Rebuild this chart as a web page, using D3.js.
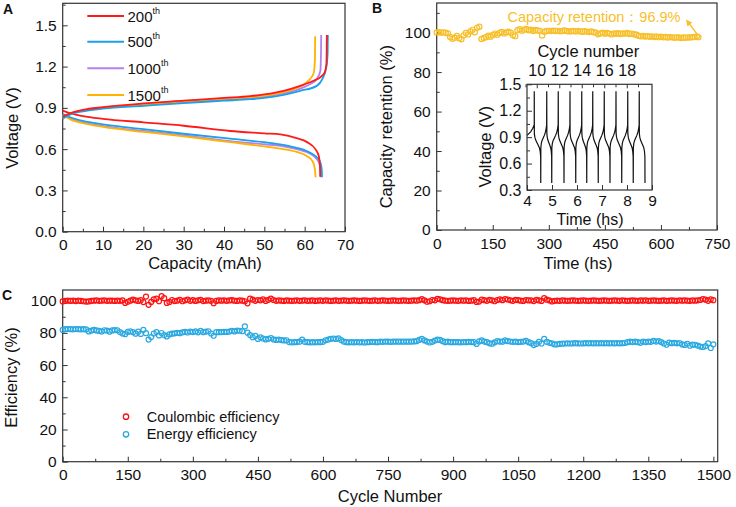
<!DOCTYPE html>
<html><head><meta charset="utf-8">
<script src="https://cdn.jsdelivr.net/npm/d3@7"></script>
<style>body{margin:0;background:#fff}svg{display:block;font-family:"Liberation Sans",Arial,sans-serif}</style>
</head><body><svg id="c" width="736" height="507"></svg>
<script>
// ---------------- DATA ----------------
// Panel A: charge / discharge curves (capacity mAh, voltage V)
const seriesNames = ["200", "500", "1000", "1500"];
const chg200Cap = [0,1,2,5,10,20,30,40,46.5,50,54.8,58.9,62.2,64,65,65.4,65.5];
const chg200V   = [0.835,0.85,0.862,0.885,0.905,0.932,0.952,0.972,0.985,0.998,1.024,1.06,1.097,1.125,1.16,1.22,1.43];
const chg500Cap = [0,1,2,5,10,20,30,40,46.5,50,54.8,58.9,63,64.4,65.4,65.7,65.75];
const chg500V   = [0.82,0.84,0.855,0.875,0.895,0.915,0.935,0.952,0.963,0.972,0.995,1.024,1.06,1.11,1.2,1.3,1.43];
const chg1000Cap = [0,1,2,5,10,20,30,40,46.5,50,54.8,58.9,61.5,63,63.9,64.05,64.1];
const chg1000V   = [0.825,0.842,0.858,0.88,0.9,0.922,0.942,0.962,0.972,0.982,1.005,1.04,1.075,1.11,1.17,1.3,1.43];
const chg1500Cap = [0,1,2,5,10,20,30,40,46.5,50,54.8,58.9,61,62.2,62.55,62.6];
const chg1500V   = [0.83,0.845,0.86,0.882,0.902,0.925,0.947,0.967,0.978,0.99,1.015,1.055,1.1,1.15,1.25,1.42];
const dis200Cap = [0,2,5,10,20,30,41.5,50,54,58,60.6,62.7,63.5,63.8,63.85];
const dis200V   = [0.88,0.86,0.84,0.82,0.795,0.77,0.732,0.715,0.707,0.68,0.651,0.598,0.55,0.47,0.40];
const dis500Cap = [0,2,5,10,20,30,41.5,50,54,58,60.6,62.7,63.8,64.25,64.3];
const dis500V   = [0.855,0.83,0.805,0.78,0.745,0.712,0.676,0.65,0.634,0.61,0.585,0.549,0.51,0.45,0.395];
const dis1000Cap = [0,2,5,10,20,30,41.5,50,54,58,60.6,62.7,63.7,63.95,64.0];
const dis1000V   = [0.845,0.82,0.795,0.768,0.732,0.70,0.658,0.635,0.624,0.60,0.577,0.537,0.49,0.44,0.395];
const dis1500Cap = [0,2,5,10,20,30,41.5,50,54,58,60.6,62,62.5,62.65,62.7];
const dis1500V   = [0.85,0.815,0.79,0.762,0.725,0.693,0.651,0.62,0.603,0.58,0.549,0.51,0.46,0.42,0.395];

// Panel B: capacity retention (%) every 6 h from 0 h
const retentionStepH = 6;
const retention = [
100.1,100.2,100.0,100.1,99.9,99.6,97.8,96.9,97.4,98.3,
97.2,96.6,98.6,99.8,99.1,100.6,101.4,100.2,102.4,103.0,
96.8,97.3,97.7,98.4,97.9,98.8,99.5,98.9,99.8,100.3,
99.6,100.1,100.4,99.9,98.6,98.2,101.2,101.7,100.9,101.5,
101.8,101.2,101.5,100.8,101.3,101.1,100.9,98.5,100.4,100.8,
100.9,100.8,101.0,100.8,100.9,100.7,100.8,101.1,100.8,100.6,
100.7,100.8,100.5,100.9,100.6,100.4,100.7,100.5,100.3,100.6,
100.2,100.0,99.2,99.6,99.9,99.4,99.8,99.5,99.1,99.6,
99.4,99.7,99.3,99.6,99.5,99.8,99.3,99.5,99.2,98.9,
98.4,98.1,98.3,98.0,98.2,97.9,98.1,97.8,98.0,97.7,
97.9,97.6,97.8,97.5,97.7,97.6,97.4,97.6,97.5,97.3,
97.5,97.4,97.6,97.5,97.7,97.8,98.1];
const retentionLabel = "Capacity retention：96.9%";

// Panel B inset: voltage profile of cycles 9-19 (time in h)
const insetChargeEndT    = [4.29,4.79,5.25,5.72,6.19,6.63,7.09,7.56,8.03,8.49];
const insetDischargeEndT = [4.55,4.99,5.48,5.95,6.39,6.85,7.32,7.79,8.25,8.72];
const chargeShapeFrac = [0,0.08,0.2,0.4,0.6,0.8,0.92,1];
const chargeShapeV    = [0.78,0.83,0.86,0.89,0.92,0.96,1.0,1.04];
const dischargeShapeFrac = [0,0.08,0.2,0.4,0.6,0.8,0.92,1];
const dischargeShapeV    = [0.94,0.90,0.87,0.84,0.81,0.78,0.74,0.68];
const insetTopV = 1.42, insetBottomV = 0.38;
const cycleTicks = [10,12,14,16,18];

// Panel C: efficiencies every 6 cycles from 0
const effStep = 6;
const coulombic = [
99.5,99.8,100,99.9,100,99.7,100,99.8,99.6,99.4,
99.5,99.9,100,100.1,99.9,100,100.2,99.9,100,100,
99.8,100,99.9,100.1,98.6,99.3,100,100.6,100.2,99.8,
100.3,99.1,102.5,97.4,99.2,100.8,101.2,99.6,102.8,101.5,
98.6,99.2,100.4,99.7,100,100.5,99.6,100.2,100.6,99.9,
100.3,99.8,100.2,100.5,99.7,100,100.2,99.9,98.4,99.8,
100.1,100,100.2,99.9,100.1,100.3,100,99.8,100.2,100,
99.6,98.3,101.2,100.6,99.9,100.4,100.2,100.8,99.8,100.5,
101.3,100.4,99.9,100.1,100,99.8,100.1,100,99.9,100,
100.1,99.9,100,100.2,99.9,100,100.1,99.8,100,100.1,
99.9,100.2,100,99.8,100,100.1,99.9,100,100.2,100,
99.9,100,100.1,100,99.8,100,100.1,100,99.9,100,
100.1,99.9,100,100.2,100,99.9,100,100.1,100,99.9,
100,100.1,100,99.9,100,100.2,100,100.3,100.9,100.2,
99.3,99.6,100.4,100.2,101.1,100.8,100.3,100,99.9,100,
100.1,100,99.9,100.2,100,100.1,99.8,100,100.3,99.2,
99.4,100.6,100.3,99.9,100.5,100.2,99.6,100.4,100.8,100.3,
101,100.7,100.2,99.9,100.5,100.3,100,99.8,100.4,100.1,
100.2,99.7,100.5,100.1,99.8,101.6,100.6,100.1,99.5,99.9,
100,99.9,100.1,100,99.9,100,100.1,100,99.9,100,
100.1,100,99.9,100,100.1,100,99.9,100,100.1,100,
99.9,100,100.1,100,99.9,100.2,100,99.9,100,100.1,
100,99.9,100.1,100,100.2,99.9,100,100.1,100,99.9,
100,100.1,99.9,100,100.1,100,99.9,100.2,100,100.1,
100,99.9,100.1,100,100.2,100.4,101,100.6,99.9,100.8,
100.3];
const energy = [
81.8,82.3,82.4,82.3,82.2,82.4,82.3,82.2,82.3,82.1,
80.9,81.4,81.8,81.5,81.2,80.8,81.6,81.4,80.7,81.5,
81.7,81.6,80.5,79.6,79.2,80.6,81,80.4,79.5,80.7,
79.3,81.9,79.8,75.8,77.4,79.6,80.5,78.4,79.9,78.6,
77.8,79,79.5,79.7,80,79.8,80.3,80.6,80.2,80.8,
80.5,80.9,80.3,81.2,80.4,80.8,81,79.6,78.2,80.4,
80.4,80.5,80.6,80.6,80.8,81.2,80.9,81.4,81.3,81,
84,80.1,78.6,77.3,78.1,76.2,77.2,76.5,75.9,76.3,
76.8,75.9,75.6,75.8,75.5,75.3,75.4,74.3,74.1,74.2,
74.3,74.5,75.8,74.4,74.2,74.1,74.2,74.1,74.3,74.2,
74.4,75.4,75.8,76.3,76.5,76.2,76.6,75.5,74.6,74.2,
74.1,74.2,74.1,74.3,74.1,74.2,74,74.2,74.3,74.4,
74.3,74.2,74.5,74.4,74.6,74.5,74.4,74.5,74.6,74.5,
74.6,74.5,74.6,74.5,74.6,74.7,74.8,75.6,76.2,75.3,
74.6,74,74.4,75.2,75.8,75.6,74.8,74.2,74.5,74.2,
74.2,74.3,74.2,74.1,74.3,74.2,74.4,74.3,74.2,73.1,
74.7,75.3,74.6,74.2,73.5,73.3,74.1,74.8,74.6,74.5,
75.3,74.8,74.6,74.4,74.5,74.3,74.4,74.6,75,74.2,
73.6,72.4,73.1,74.4,73.4,76.3,74.4,73.8,73.5,72.8,
72.9,73.2,73.3,73.4,73.5,73.4,73.5,73.6,73.5,73.4,
73.5,73.6,73.5,73.6,73.5,73.6,73.5,73.6,73.5,73.6,
73.5,73.6,73.5,73.6,73.5,73.6,73.7,74.2,74.5,74.3,
74.5,74.2,73.8,74.6,74.3,74.5,74.4,75,74.6,74.9,
74.3,73.4,72.6,73.9,73.6,73.8,73.5,73.7,72.8,72.5,
73.2,72,72.7,72.6,72.1,71.5,71.2,71.8,73.5,70.6,
72.9];
const effNames = ["Coulombic efficiency", "Energy efficiency"];

// ---------------- DRAWING ----------------
const svg = d3.select("#c");
const AX = "#333";

function axisStyle(g, fs) {
  g.select(".domain").remove();
  g.selectAll("line").attr("stroke", AX).attr("stroke-width", 1);
  g.selectAll("text").attr("font-size", fs).attr("fill", "#111")
    .attr("font-family", '"Liberation Sans", Arial, sans-serif');
  g.attr("font-family", null).attr("font-size", null);
}
function drawAxes(x, y, o) {
  const [xl, xr] = x.range(), [yb, yt] = y.range();
  const fs = o.fs || 15.5;
  const gx = svg.append("g").attr("transform", `translate(0,${yb})`)
    .call(d3.axisBottom(x).tickValues(o.xt).tickSizeInner(-5).tickSizeOuter(0).tickPadding(o.xpad || 7.5).tickFormat(o.xf || d3.format("")));
  axisStyle(gx, o.xfs || fs);
  if (o.xm) {
    const gm = svg.append("g").attr("transform", `translate(0,${yb})`)
      .call(d3.axisBottom(x).tickValues(o.xm).tickSizeInner(-3).tickSizeOuter(0).tickFormat(""));
    axisStyle(gm, fs);
  }
  const gy = svg.append("g").attr("transform", `translate(${xl},0)`)
    .call(d3.axisLeft(y).tickValues(o.yt).tickSizeInner(-5).tickSizeOuter(0).tickPadding(o.ypad || 6).tickFormat(o.yf || d3.format("")));
  axisStyle(gy, fs);
  if (o.ym) {
    const gm = svg.append("g").attr("transform", `translate(${xl},0)`)
      .call(d3.axisLeft(y).tickValues(o.ym).tickSizeInner(-3).tickSizeOuter(0).tickFormat(""));
    axisStyle(gm, fs);
  }
  svg.append("rect").attr("x", xl).attr("y", yt).attr("width", xr - xl).attr("height", yb - yt)
    .attr("fill", "none").attr("stroke", AX).attr("stroke-width", 1.2);
}
function text(x, y, s, o = {}) {
  const t = svg.append("text").attr("x", x).attr("y", y).text(s)
    .attr("font-size", o.fs || 16.5).attr("fill", o.fill || "#111")
    .attr("text-anchor", o.anchor || "middle");
  if (o.bold) t.attr("font-weight", "bold");
  if (o.rot) t.attr("transform", `rotate(-90,${x},${y})`);
  return t;
}
const range = (a, b, s) => d3.range(a, b + s / 2, s);

// ===== Panel A =====
const xA = d3.scaleLinear().domain([0, 70]).range([62.7, 345]);
const yA = d3.scaleLinear().domain([0, 1.66]).range([231.7, 3.3]);
drawAxes(xA, yA, {
  xt: range(0, 70, 10), xm: range(5, 65, 10),
  yt: range(0, 1.5, 0.3), ym: range(0.15, 1.65, 0.3), yf: d3.format(".1f")
});
const colorsA = ["#FF1A1A", "#1CA0E8", "#B580F0", "#FFB300"];
const chgCaps = [chg200Cap, chg500Cap, chg1000Cap, chg1500Cap], chgVs = [chg200V, chg500V, chg1000V, chg1500V];
const disCaps = [dis200Cap, dis500Cap, dis1000Cap, dis1500Cap], disVs = [dis200V, dis500V, dis1000V, dis1500V];
const lineA = d3.line().x(d => xA(d[0])).y(d => yA(d[1])).curve(d3.curveMonotoneX);
const order = [2, 3, 1, 0];
order.forEach(i => {
  svg.append("path").attr("d", lineA(disCaps[i].map((c, j) => [c, disVs[i][j]])))
    .attr("fill", "none").attr("stroke", colorsA[i]).attr("stroke-width", 1.8);
});
order.forEach(i => {
  svg.append("path").attr("d", lineA(chgCaps[i].map((c, j) => [c, chgVs[i][j]])))
    .attr("fill", "none").attr("stroke", colorsA[i]).attr("stroke-width", 1.8);
});
// legend A
const legY = [16, 41.7, 68.3, 95];
seriesNames.forEach((n, i) => {
  svg.append("line").attr("x1", 87.3).attr("x2", 124).attr("y1", legY[i]).attr("y2", legY[i])
    .attr("stroke", colorsA[i]).attr("stroke-width", 2);
  const t = svg.append("text").attr("x", 127.5).attr("y", legY[i] + 5.5).attr("font-size", 15).attr("fill", "#111");
  t.append("tspan").text(n);
  t.append("tspan").text("th").attr("font-size", 9).attr("dy", -8);
});
text(205, 268.5, "Capacity (mAh)");
text(17.5, 128, "Voltage (V)", { rot: true });
text(8, 13.5, "A", { bold: true, fs: 14 });

// ===== Panel B =====
const xB = d3.scaleLinear().domain([0, 750]).range([436.7, 717]);
const yB = d3.scaleLinear().domain([0, 115]).range([230, 3]);
drawAxes(xB, yB, {
  xt: range(0, 750, 150), xm: range(75, 675, 150),
  yt: range(0, 100, 20), ym: range(10, 110, 20)
});
const gold = "#F7BF2A";
svg.append("g").selectAll("circle").data(retention).join("circle")
  .attr("cx", (d, i) => xB(i * retentionStepH)).attr("cy", d => yB(d)).attr("r", 2.6)
  .attr("fill", "none").attr("stroke", gold).attr("stroke-width", 1.2);
svg.append("circle").attr("cx", xB(700)).attr("cy", yB(97.7)).attr("r", 2.6)
  .attr("fill", "none").attr("stroke", gold).attr("stroke-width", 1.2);
text(594, 21.5, retentionLabel, { fs: 14.5, fill: gold });
// arrow
svg.append("defs").append("marker").attr("id", "ah").attr("viewBox", "0 0 10 10").attr("refX", 5).attr("refY", 5)
  .attr("markerWidth", 5).attr("markerHeight", 5).attr("orient", "auto")
  .append("path").attr("d", "M0,0L10,5L0,10z").attr("fill", gold);
svg.append("line").attr("x1", 697).attr("y1", 34).attr("x2", 688).attr("y2", 22)
  .attr("stroke", gold).attr("stroke-width", 1.3).attr("marker-end", "url(#ah)");
text(578, 268.5, "Time (hs)");
text(392.5, 126.7, "Capacity retention (%)", { rot: true });
text(377, 13, "B", { bold: true, fs: 14 });

// inset
const xI = d3.scaleLinear().domain([4, 9]).range([527, 652]);
const yI = d3.scaleLinear().domain([0.3, 1.5]).range([190, 84.3]);
svg.append("rect").attr("x", 527).attr("y", 84.3).attr("width", 125).attr("height", 105.7).attr("fill", "#fff");
// build inset path from read spike times and profile shapes
const pts = [];
const firstStart = 4.0;
chargeShapeFrac.forEach((f, j) => { if (f >= 0.6) pts.push([firstStart + (f - 0.6) / 0.4 * (insetChargeEndT[0] - firstStart), chargeShapeV[j]]); });
insetChargeEndT.forEach((tc, k) => {
  const td = insetDischargeEndT[k];
  pts.push([tc, insetTopV]);
  dischargeShapeFrac.forEach((f, j) => pts.push([tc + 0.004 + f * (td - tc - 0.008), dischargeShapeV[j]]));
  pts.push([td, insetBottomV]);
  const next = insetChargeEndT[k + 1];
  if (next !== undefined) {
    chargeShapeFrac.forEach((f, j) => pts.push([td + 0.004 + f * (next - td - 0.008), chargeShapeV[j]]));
  }
});
svg.append("path").attr("d", d3.line().x(d => xI(d[0])).y(d => yI(d[1]))(pts))
  .attr("fill", "none").attr("stroke", "#111").attr("stroke-width", 1.2);
drawAxes(xI, yI, {
  fs: 16, xfs: 15.5, xt: range(4, 9, 1), xpad: 4.5, ypad: 5.5,
  yt: range(0.3, 1.5, 0.3), ym: range(0.45, 1.35, 0.3), yf: d3.format(".1f")
});
const cyc = d3.scaleLinear().domain([10, 18]).range([xI(4.39), xI(7.99)]);
const gt = svg.append("g").attr("transform", "translate(0,84.3)")
  .call(d3.axisTop(cyc).tickValues(cycleTicks).tickSizeInner(-4).tickSizeOuter(0).tickPadding(8.5).tickFormat(d3.format("")));
axisStyle(gt, 16);
const gt2 = svg.append("g").attr("transform", "translate(0,84.3)")
  .call(d3.axisTop(cyc).tickValues([9, 11, 13, 15, 17, 19]).tickSizeInner(-3).tickSizeOuter(0).tickFormat(""));
axisStyle(gt2, 16);
text(588.3, 57.3, "Cycle number");
text(590, 224.5, "Time (hs)", { fs: 16 });
text(491, 146.7, "Voltage (V)", { rot: true });

// ===== Panel C =====
const xC = d3.scaleLinear().domain([0, 1510]).range([62.7, 717.7]);
const yC = d3.scaleLinear().domain([0, 106.6]).range([461.7, 290]);
drawAxes(xC, yC, {
  xt: range(0, 1500, 150), xm: range(75, 1425, 150),
  yt: range(0, 100, 20), ym: range(10, 90, 20)
});
const red = "#FF1010", blue = "#29A8E0";
[[energy, blue], [coulombic, red]].forEach(([arr, col]) => {
  svg.append("g").selectAll("circle").data(arr).join("circle")
    .attr("cx", (d, i) => xC(i * effStep)).attr("cy", d => yC(d)).attr("r", 2.5)
    .attr("fill", "none").attr("stroke", col).attr("stroke-width", 1.2);
});
[[416.7, red], [434.3, blue]].forEach(([y, col], i) => {
  svg.append("circle").attr("cx", 126).attr("cy", y).attr("r", 2.7).attr("fill", "none").attr("stroke", col).attr("stroke-width", 1.3);
  text(146.7, y + 5, effNames[i], { fs: 14.5, anchor: "start" });
});
text(390, 501.5, "Cycle Number");
text(17, 377.5, "Efficiency (%)", { rot: true });
text(7, 300, "C", { bold: true, fs: 14 });
</script></body></html>
